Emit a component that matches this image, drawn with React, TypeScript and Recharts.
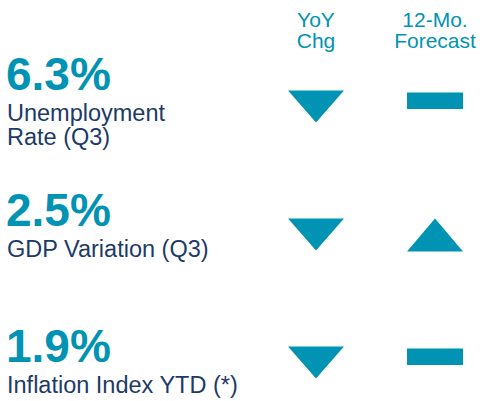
import React from 'react';
import { ScatterChart, Scatter, XAxis, YAxis } from 'recharts';

// ── data ──────────────────────────────────────────────────────────────────────

const indicatorValues = ['6.3%', '2.5%', '1.9%'];
const indicatorLabels = [['Unemployment', 'Rate (Q3)'], ['GDP Variation (Q3)'], ['Inflation Index YTD (*)']];
const columnHeaders = [['YoY', 'Chg'], ['12-Mo.', 'Forecast']];
const yoyTrend = ['down', 'down', 'down'];
const forecastTrend = ['flat', 'up', 'flat'];

const rowIdx = indicatorValues.map((_, i) => i);
const colIdx = columnHeaders.map((_, i) => i);

const yoyData = yoyTrend.map((trend, row) => ({ col: 0, row, trend }));
const forecastData = forecastTrend.map((trend, row) => ({ col: 1, row, trend }));

// ── styles ────────────────────────────────────────────────────────────────────

const TEAL = '#0093b3';
const NAVY = '#1d3a68';
const FONT = '"Liberation Sans", Arial, sans-serif';

// ── shapes / ticks ────────────────────────────────────────────────────────────

function TrendShape(props: any) {
  const { cx, cy, payload } = props;
  const w = 28;
  if (payload.trend === 'down') {
    return <polygon points={`${cx - w},${cy - 16} ${cx + w},${cy - 16} ${cx},${cy + 16}`} fill={TEAL} />;
  }
  if (payload.trend === 'up') {
    return <polygon points={`${cx - w},${cy + 17} ${cx + w},${cy + 17} ${cx},${cy - 16}`} fill={TEAL} />;
  }
  return <rect x={cx - w} y={cy - 14} width={w * 2} height={16.5} fill={TEAL} />;
}

// two-line column header, kept as one text element
function HeaderTick(props: any) {
  const { x, y, payload } = props;
  const lines = columnHeaders[payload.value] || [];
  return (
    <text x={x} y={y - 17} textAnchor="middle" fontSize={21} fill={TEAL} fontFamily={FONT}>
      {lines.map((l, i) => (
        <tspan key={i} x={x} dy={i === 0 ? 0 : 21}>{l}</tspan>
      ))}
    </text>
  );
}

function IndicatorTick(props: any) {
  const { y, payload } = props;
  const r = payload.value;
  return (
    <g>
      <text x={6} y={y} fontSize={46} fontWeight="bold" fill={TEAL} fontFamily={FONT}>
        {indicatorValues[r]}
      </text>
      <text x={7} y={y + 31} fontSize={23.5} fill={NAVY} fontFamily={FONT}>
        {indicatorLabels[r].map((l, i) => (
          <tspan key={i} x={7} dy={i === 0 ? 0 : 24.5}>{l}</tspan>
        ))}
      </text>
    </g>
  );
}

// ── component ─────────────────────────────────────────────────────────────────

export default function App() {
  return (
    <div style={{ position: 'absolute', left: 0, top: 0, background: '#fff' }}>
      <ScatterChart width={489} height={401} margin={{ top: 0, right: 0, bottom: 0, left: 0 }}>
        <XAxis
          type="number" dataKey="col" orientation="top" height={52}
          domain={[-0.3866, 1.4538]} ticks={colIdx} allowDataOverflow
          axisLine={false} tickLine={false} tick={<HeaderTick />} interval={0}
        />
        <YAxis
          yAxisId="t" type="number" dataKey="row" width={270} reversed
          domain={[-0.2798, 2.29]} ticks={rowIdx} allowDataOverflow
          axisLine={false} tickLine={false} tick={<IndicatorTick />} interval={0}
        />
        <YAxis
          yAxisId="m" type="number" dataKey="row" hide reversed
          domain={[-0.4258, 2.3008]} allowDataOverflow
        />
        <Scatter yAxisId="m" name="YoY Chg" data={yoyData} shape={<TrendShape />} isAnimationActive={false} />
        <Scatter yAxisId="m" name="12-Mo. Forecast" data={forecastData} shape={<TrendShape />} isAnimationActive={false} />
      </ScatterChart>
    </div>
  );
}
